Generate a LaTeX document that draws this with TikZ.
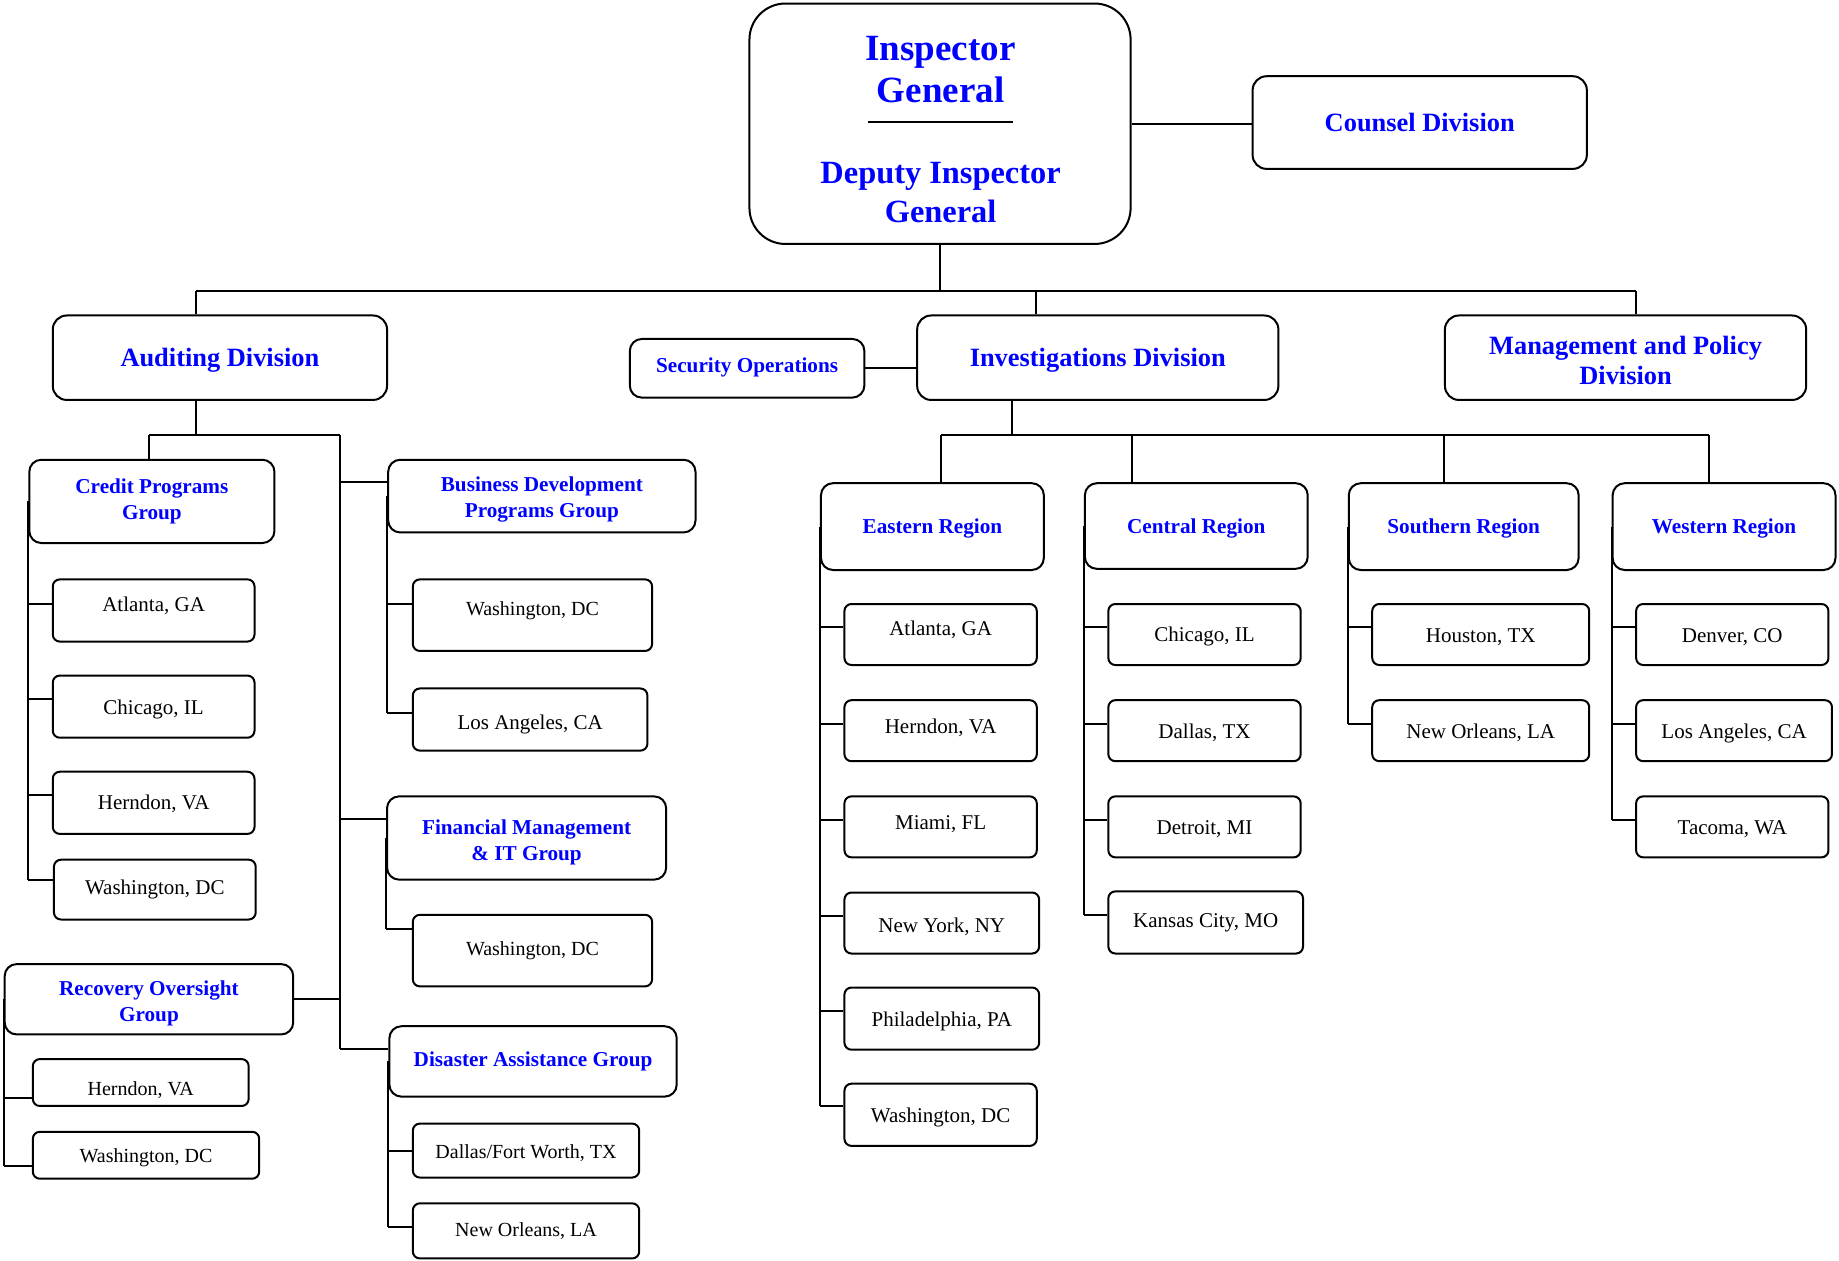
\documentclass[tikz,border=0pt]{standalone}
\usepackage{fontspec}
\setmainfont{Liberation Serif}
\usetikzlibrary{calc}
\definecolor{iblue}{RGB}{0,0,255}
% box name, x1, y1, x2, y2, box style, text style, text, text offset (down)
\newcommand{\orgbox}[9]{\node[#6, minimum width={(#4-#2)*0.5864pt}, minimum height={(#5-#3)*0.5864pt}] (#1) at ({(#2+#4)/2},{(#3+#5)/2}) {};
  \node[#7] (#1t) at ({(#2+#4)/2},{(#3+#5)/2+#9}) {#8};}
\newcommand{\orgbr}[3]{\coordinate (#2b) at ([yshift={(#3)*0.5864pt}]#2.west); \draw[conn] (#2b) -- (#1.west |- #2b);}
\newcommand{\orgvl}[2]{\draw[conn] (#1.west) -- (#1.west |- #2b);}
\begin{document}
\begin{tikzpicture}[x=0.5864pt, y=-0.5864pt,
  conn/.style={line width=1pt},
  bx/.style={draw, line width=1pt, inner sep=0pt, rounded corners=3.5pt},
  dbox/.style={bx, rounded corners=7pt},
  gbox/.style={bx, rounded corners=6pt},
  txt/.style={inner sep=0pt, align=center},
  dtxt/.style={txt, text=iblue, font=\fontsize{13.2}{15.2}\selectfont\bfseries},
  gtxt/.style={txt, text=iblue, font=\fontsize{10.6}{13}\selectfont\bfseries},
  ctxt/.style={txt, font=\fontsize{10.5}{12.5}\selectfont},
  cstxt/.style={txt, font=\fontsize{10}{12}\selectfont},
  igt/.style={txt, text=iblue}]
\useasboundingbox (0,0) rectangle (1568,1075);

% top
\node[bx, rounded corners=18pt, minimum width={325*0.5864pt}, minimum height={205*0.5864pt}] (ig) at (801.5,105.5) {};
\node[igt, font=\fontsize{18.5}{21}\selectfont\bfseries] (igA) at (802,59) {Inspector\\General};
\coordinate (igl1) at (740,104); \coordinate (igl2) at (864,104);
\draw[conn] (igl1) -- (igl2);
\node[igt, font=\fontsize{16.2}{19.5}\selectfont\bfseries] (igB) at (802,164) {Deputy Inspector\\General};
\orgbox{cou}{1068}{65}{1353}{144}{dbox}{dtxt}{Counsel Division}{0}
\draw[conn] (ig.east) -- (ig.east -| cou.west);

\orgbox{aud}{45}{269}{330}{341}{dbox}{dtxt}{Auditing Division}{2}
\orgbox{sec}{537}{289}{737}{339}{gbox}{gtxt}{Security Operations}{-1}
\orgbox{inv}{782}{269}{1090}{341}{dbox}{dtxt}{Investigations Division}{2}
\orgbox{mgt}{1232}{269}{1540}{341}{dbox}{dtxt}{Management and Policy\\Division}{2.5}
\draw[conn] (sec.east) -- (sec.east -| inv.west);

\coordinate (tbL) at (167,248); \coordinate (tbR) at (1395,248); \coordinate (tbI) at (883,248);
\draw[conn] (ig.south) -- (ig.south |- tbL);
\draw[conn] (tbL) -- (tbR);
\draw[conn] (tbL) -- (tbL |- aud.north);
\draw[conn] (tbI) -- (tbI |- inv.north);
\draw[conn] (tbR) -- (tbR |- mgt.north);

% auditing
\orgbox{cpg}{25}{392}{234}{463}{gbox}{gtxt}{Credit Programs\\Group}{0}
\orgbox{ca1}{45}{494}{217}{547}{bx}{ctxt}{Atlanta, GA}{-3.6}
\orgbox{ca2}{45}{576}{217}{629}{bx}{ctxt}{Chicago, IL}{2}
\orgbox{ca3}{45}{658}{217}{711}{bx}{ctxt}{Herndon, VA}{1}
\orgbox{ca4}{46}{733}{218}{784}{bx}{ctxt}{Washington, DC}{0}
\orgbr{cpg}{ca1}{5.5} \orgbr{cpg}{ca2}{6.5} \orgbr{cpg}{ca3}{6.5} \orgbr{cpg}{ca4}{8.5}
\orgvl{cpg}{ca4}

\orgbox{bdp}{331}{392}{593}{454}{gbox}{gtxt}{Business Development\\Programs Group}{3}
\orgbox{bd1}{352}{494}{556}{555}{bx}{cstxt}{Washington, DC}{-3.6}
\orgbox{bd2}{352}{587}{552}{640}{bx}{ctxt}{Los Angeles, CA}{4}
\orgbr{bdp}{bd1}{9.5} \orgbr{bdp}{bd2}{5.5}
\orgvl{bdp}{bd2}

\orgbox{fmg}{330}{679}{568}{750}{gbox}{gtxt}{Financial Management\\\& IT Group}{3.5}
\orgbox{fm1}{352}{780}{556}{841}{bx}{cstxt}{Washington, DC}{0}
\orgbr{fmg}{fm1}{18.5}
\orgvl{fmg}{fm1}

\orgbox{rog}{4}{822}{250}{882}{gbox}{gtxt}{Recovery Oversight\\Group}{3.5}
\orgbox{ro1}{28}{903}{212}{943}{bx}{cstxt}{Herndon, VA}{6.6}
\orgbox{ro2}{28}{965}{221}{1005}{bx}{cstxt}{Washington, DC}{2}
\orgbr{rog}{ro1}{-13} \orgbr{rog}{ro2}{-9}
\orgvl{rog}{ro2}

\orgbox{dag}{332}{875}{577}{935}{gbox}{gtxt}{Disaster Assistance Group}{0}
\orgbox{da1}{352}{958}{545}{1004}{bx}{cstxt}{Dallas/Fort Worth, TX}{2}
\orgbox{da2}{352}{1026}{545}{1073}{bx}{cstxt}{New Orleans, LA}{0}
\orgbr{dag}{da1}{0} \orgbr{dag}{da2}{3.5}
\orgvl{dag}{da2}

\coordinate (ab) at (167,371); \coordinate (abL) at (127,371); \coordinate (abR) at (290,371);
\draw[conn] (ab |- aud.south) -- (ab);
\draw[conn] (abL) -- (abR);
\draw[conn] (abL) -- (abL |- cpg.north);
\coordinate (bdpin) at ([yshift={-20*0.5864pt}]bdp.north west);
\coordinate (fmgin) at ([yshift={-20*0.5864pt}]fmg.north west);
\coordinate (dagin) at ([yshift={-20*0.5864pt}]dag.north west);
\draw[conn] (abR) -- (abR |- dagin);
\draw[conn] (abR |- bdpin) -- (bdpin);
\draw[conn] (abR |- fmgin) -- (fmgin);
\draw[conn] (abR |- dagin) -- (dagin);
\draw[conn] (rog.east) -- (abR |- rog.east);

% investigations
\orgbox{er}{700}{412}{890}{486}{gbox}{gtxt}{Eastern Region}{2}
\orgbox{cr}{925}{412}{1115}{485}{gbox}{gtxt}{Central Region}{2}
\orgbox{sr}{1150}{412}{1346}{486}{gbox}{gtxt}{Southern Region}{2}
\orgbox{wr}{1375}{412}{1565}{486}{gbox}{gtxt}{Western Region}{2}
\coordinate (ib) at (863,371); \coordinate (ibL) at (802,371); \coordinate (ibC) at (965,371);
\coordinate (ibS) at (1231,371); \coordinate (ibR) at (1457,371);
\draw[conn] (ib |- inv.south) -- (ib);
\draw[conn] (ibL) -- (ibR);
\draw[conn] (ibL) -- (ibL |- er.north);
\draw[conn] (ibC) -- (ibC |- cr.north);
\draw[conn] (ibS) -- (ibS |- sr.north);
\draw[conn] (ibR) -- (ibR |- wr.north);

\orgbox{e1}{720}{515}{884}{567}{bx}{ctxt}{Atlanta, GA}{-3.6}
\orgbox{e2}{720}{597}{884}{649}{bx}{ctxt}{Herndon, VA}{-2.6}
\orgbox{e3}{720}{679}{884}{731}{bx}{ctxt}{Miami, FL}{-2.6}
\orgbox{e4}{720}{761}{886}{813}{bx}{ctxt}{New York, NY}{3}
\orgbox{e5}{720}{842}{886}{895}{bx}{ctxt}{Philadelphia, PA}{2}
\orgbox{e6}{720}{924}{884}{977}{bx}{ctxt}{Washington, DC}{2}
\orgbr{er}{e1}{6} \orgbr{er}{e2}{6} \orgbr{er}{e3}{6} \orgbr{er}{e4}{6} \orgbr{er}{e5}{6.5} \orgbr{er}{e6}{7.5}
\orgvl{er}{e6}

\orgbox{c1}{945}{515}{1109}{567}{bx}{ctxt}{Chicago, IL}{2}
\orgbox{c2}{945}{597}{1109}{649}{bx}{ctxt}{Dallas, TX}{2}
\orgbox{c3}{945}{679}{1109}{731}{bx}{ctxt}{Detroit, MI}{2}
\orgbox{c4}{945}{760}{1111}{813}{bx}{ctxt}{Kansas City, MO}{0}
\orgbr{cr}{c1}{6} \orgbr{cr}{c2}{6} \orgbr{cr}{c3}{6} \orgbr{cr}{c4}{6.5}
\orgvl{cr}{c4}

\orgbox{s1}{1170}{515}{1355}{567}{bx}{ctxt}{Houston, TX}{2}
\orgbox{s2}{1170}{597}{1355}{649}{bx}{ctxt}{New Orleans, LA}{2}
\orgbr{sr}{s1}{6} \orgbr{sr}{s2}{6}
\orgvl{sr}{s2}

\orgbox{w1}{1395}{515}{1559}{567}{bx}{ctxt}{Denver, CO}{2}
\orgbox{w2}{1395}{597}{1562}{649}{bx}{ctxt}{Los Angeles, CA}{2}
\orgbox{w3}{1395}{679}{1559}{731}{bx}{ctxt}{Tacoma, WA}{2}
\orgbr{wr}{w1}{6} \orgbr{wr}{w2}{6} \orgbr{wr}{w3}{6}
\orgvl{wr}{w3}
\end{tikzpicture}
\end{document}
